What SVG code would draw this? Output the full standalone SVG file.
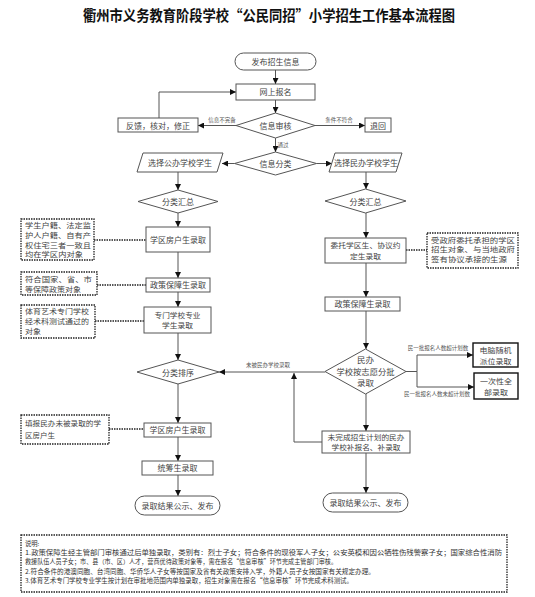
<svg xmlns="http://www.w3.org/2000/svg" width="535" height="597" viewBox="0 0 535 597">
<defs>
<marker id="ar" markerWidth="6" markerHeight="6" refX="6" refY="3" orient="auto" markerUnits="userSpaceOnUse">
<path d="M0,0 L6,3 L0,6 z" fill="#111"/>
</marker>
<style>
.n{fill:#fff;stroke:#555;stroke-width:1}
.b{fill:#fff;stroke:#111;stroke-width:1.4}
.nt{fill:#fff;stroke:#222;stroke-width:1.3;stroke-dasharray:1.5 1}
.c{fill:none;stroke:#555;stroke-width:1}
.d{fill:none;stroke:#222;stroke-width:1.3;stroke-dasharray:1.5 1}
text{font-family:"Noto Sans CJK SC","Noto Sans CJK JP",sans-serif;fill:#444}
.t{font-size:8px;text-anchor:middle}
.t2{font-size:7.2px;text-anchor:middle}
.tl{font-size:6.8px}
.s{font-size:5.5px;text-anchor:middle;fill:#555}
.m{font-size:6.3px;fill:#333}
</style>
</defs>
<rect width="535" height="597" fill="#fff"/>
<text x="269" y="21" font-size="14.5" font-weight="bold" text-anchor="middle" style="fill:#111" textLength="372" lengthAdjust="spacingAndGlyphs">衢州市义务教育阶段学校“公民同招”小学招生工作基本流程图</text>

<g id="connectors">
<path class="c" d="M275.5,70 V84" marker-end="url(#ar)"/>
<path class="c" d="M275.5,100 V113" marker-end="url(#ar)"/>
<path class="c" d="M236,125.5 H198" marker-end="url(#ar)"/>
<path class="c" d="M159,118 V92 H236" marker-end="url(#ar)"/>
<path class="c" d="M315,125.5 H365" marker-end="url(#ar)"/>
<path class="c" d="M275.5,138 V152" marker-end="url(#ar)"/>
<path class="c" d="M234.5,163.5 H222" marker-end="url(#ar)"/>
<path class="c" d="M316.5,163.5 H332" marker-end="url(#ar)"/>
<path class="c" d="M178,172 V190" marker-end="url(#ar)"/>
<path class="c" d="M178,213 V227" marker-end="url(#ar)"/>
<path class="c" d="M178,252 V278" marker-end="url(#ar)"/>
<path class="c" d="M178,292 V307" marker-end="url(#ar)"/>
<path class="c" d="M178,333 V360" marker-end="url(#ar)"/>
<path class="c" d="M178,384 V423" marker-end="url(#ar)"/>
<path class="c" d="M178,437 V461" marker-end="url(#ar)"/>
<path class="c" d="M178,475 V496" marker-end="url(#ar)"/>
<path class="c" d="M366,172 V189" marker-end="url(#ar)"/>
<path class="c" d="M366,213 V238" marker-end="url(#ar)"/>
<path class="c" d="M366,263 V297" marker-end="url(#ar)"/>
<path class="c" d="M366,311 V349" marker-end="url(#ar)"/>
<path class="c" d="M406,371.5 H417 V355 H473" marker-end="url(#ar)"/>
<path class="c" d="M417,371.5 V387 H474" marker-end="url(#ar)"/>
<path class="c" d="M325,372 H219" marker-end="url(#ar)"/>
<path class="c" d="M366,394 V431" marker-end="url(#ar)"/>
<path class="c" d="M322,442 H294 V373" marker-end="url(#ar)"/>
<path class="c" d="M366,453 V493" marker-end="url(#ar)"/>
<path class="d" d="M94,240 H146"/>
<path class="d" d="M97,285 H146"/>
<path class="d" d="M95,321 H144"/>
<path class="d" d="M109,429 H144"/>
<path class="d" d="M406,250 H427"/>
<text class="s" x="222" y="122">信息不完备</text>
<text class="s" x="339" y="122">条件不符合</text>
<text class="s" x="283" y="147">通过</text>
<text class="s" x="268" y="367">未被民办学校录取</text>
<text class="s" x="438" y="350">民一批报名人数超计划数</text>
<text class="s" x="437" y="396">民一批报名人数未超计划数</text>
</g>

<g id="start"><rect class="n" x="235" y="53" width="81" height="17" rx="8.5"/><text class="t" x="275.5" y="65" font-size="9.5">发布招生信息</text></g>
<g id="signup"><rect class="n" x="236" y="84" width="79" height="16"/><text class="t" x="275.5" y="95" font-size="9">网上报名</text></g>
<g id="review"><polygon class="n" points="236,125.5 275.5,113 315,125.5 275.5,138"/><text class="t" x="275.5" y="129" font-size="9">信息审核</text></g>
<g id="feedback"><rect class="n" x="118" y="118" width="80" height="14"/><text class="t" x="158" y="128.5" font-size="8.5">反馈，核对，修正</text></g>
<g id="reject"><rect class="n" x="365" y="118" width="26" height="14"/><text class="t" x="378" y="128.5" font-size="8.5">退回</text></g>
<g id="classify"><polygon class="n" points="234.5,163.5 275.5,152 316.5,163.5 275.5,175"/><text class="t" x="275.5" y="167" font-size="8.5">信息分类</text></g>
<g id="public"><polygon class="n" points="143,153 223,153 217,172 137,172"/><text class="t" x="180" y="166">选择公办学校学生</text></g>
<g id="private"><polygon class="n" points="335,153 402,153 396,172 329,172"/><text class="t" x="366" y="165.5" font-size="7.5">选择民办学校学生</text></g>

<g id="sum-l"><polygon class="n" points="138,201.5 178,190 218,201.5 178,213"/><text class="t" x="178" y="205">分类汇总</text></g>
<g id="district-l"><rect class="n" x="146" y="227" width="64" height="25"/><text class="t" x="178" y="242.5">学区房户生录取</text></g>
<g id="note1"><rect class="nt" x="21" y="219" width="73" height="41"/>
<text class="tl" x="25" y="228" textLength="66" lengthAdjust="spacingAndGlyphs">学生户籍、法定监</text>
<text class="tl" x="25" y="237.8" textLength="66" lengthAdjust="spacingAndGlyphs">护人户籍、自有产</text>
<text class="tl" x="25" y="247.6" textLength="66" lengthAdjust="spacingAndGlyphs">权住宅三者一致且</text>
<text class="tl" x="25" y="257.4" textLength="58" lengthAdjust="spacingAndGlyphs">均在学区内对象</text></g>
<g id="policy-l"><rect class="n" x="146" y="278" width="64" height="14"/><text class="t" x="178" y="288">政策保障生录取</text></g>
<g id="note2"><rect class="nt" x="21" y="272" width="76" height="23"/>
<text class="tl" x="25" y="281.5" textLength="67" lengthAdjust="spacingAndGlyphs">符合国家、省、市</text>
<text class="tl" x="25" y="291.5" textLength="56" lengthAdjust="spacingAndGlyphs">等保障政策对象</text></g>
<g id="special"><rect class="n" x="144" y="307" width="67" height="26"/><text class="t2" x="177.5" y="317.5" textLength="46" lengthAdjust="spacingAndGlyphs">专门学校专业</text><text class="t2" x="177.5" y="328" textLength="31" lengthAdjust="spacingAndGlyphs">学生录取</text></g>
<g id="note3"><rect class="nt" x="21" y="305" width="74" height="33"/>
<text class="tl" x="25" y="314" textLength="64" lengthAdjust="spacingAndGlyphs">体育艺术专门学校</text>
<text class="tl" x="25" y="323.8" textLength="64" lengthAdjust="spacingAndGlyphs">经术科测试通过的</text>
<text class="tl" x="25" y="333.6" textLength="16" lengthAdjust="spacingAndGlyphs">对象</text></g>
<g id="sort"><polygon class="n" points="137,372 178,360 219,372 178,384"/><text class="t" x="178" y="375.5">分类排序</text></g>
<g id="district-l2"><rect class="n" x="144" y="423" width="67" height="14"/><text class="t" x="177.5" y="433">学区房户生录取</text></g>
<g id="note4"><rect class="nt" x="21" y="415" width="88" height="29"/>
<text class="tl" x="25" y="426" font-size="7.4" textLength="76" lengthAdjust="spacingAndGlyphs">填报民办未被录取的学</text>
<text class="tl" x="25" y="437.5" font-size="7.4" textLength="30" lengthAdjust="spacingAndGlyphs">区房户生</text></g>
<g id="overall"><rect class="n" x="142" y="461" width="71" height="14"/><text class="t" x="177.5" y="471">统筹生录取</text></g>
<g id="end-l"><rect class="n" x="135" y="496" width="85" height="19" rx="9.5"/><text class="t" x="177.5" y="508.5">录取结果公示、发布</text></g>

<g id="sum-r"><polygon class="n" points="325,201 365.5,189 406,201 365.5,213"/><text class="t" x="365.5" y="204.5">分类汇总</text></g>
<g id="entrust"><rect class="n" x="325" y="238" width="81" height="25"/><text class="t2" x="365.5" y="248" textLength="70" lengthAdjust="spacingAndGlyphs">委托学区生、协议约</text><text class="t2" x="365.5" y="258.5" textLength="31" lengthAdjust="spacingAndGlyphs">定生录取</text></g>
<g id="note5"><rect class="nt" x="427" y="233" width="91" height="35"/>
<text class="tl" x="431" y="242.5" textLength="84" lengthAdjust="spacingAndGlyphs">受政府委托承担的学区</text>
<text class="tl" x="431" y="252.3" textLength="84" lengthAdjust="spacingAndGlyphs">招生对象、与当地政府</text>
<text class="tl" x="431" y="262.1" textLength="76" lengthAdjust="spacingAndGlyphs">签有协议承接的生源</text></g>
<g id="policy-r"><rect class="n" x="325" y="297" width="75" height="14"/><text class="t" x="362.5" y="307">政策保障生录取</text></g>
<g id="volunteer"><polygon class="n" points="325,371.5 365.5,349 406,371.5 365.5,394"/>
<text class="t" x="365.5" y="363" font-size="7.6" textLength="17" lengthAdjust="spacingAndGlyphs">民办</text>
<text class="t" x="365.5" y="374.5" font-size="7.6" textLength="58" lengthAdjust="spacingAndGlyphs">学校按志愿分批</text>
<text class="t" x="365.5" y="386" font-size="7.6" textLength="17" lengthAdjust="spacingAndGlyphs">录取</text></g>
<g id="lottery"><rect class="b" x="473" y="343" width="45" height="24"/><text class="t2" x="495.5" y="353" textLength="32" lengthAdjust="spacingAndGlyphs">电脑随机</text><text class="t2" x="495.5" y="363.5" textLength="32" lengthAdjust="spacingAndGlyphs">派位录取</text></g>
<g id="all"><rect class="b" x="474" y="373" width="44" height="26"/><text class="t2" x="496" y="384" textLength="32" lengthAdjust="spacingAndGlyphs">一次性全</text><text class="t2" x="496" y="394.5" textLength="24" lengthAdjust="spacingAndGlyphs">部录取</text></g>
<g id="supplement"><rect class="n" x="322" y="431" width="88" height="22"/><text class="t2" x="366" y="440" font-size="6.5" textLength="77" lengthAdjust="spacingAndGlyphs">未完成招生计划的民办</text><text class="t2" x="366" y="449.5" font-size="6.5" textLength="69" lengthAdjust="spacingAndGlyphs">学校补报名、补录取</text></g>
<g id="end-r"><rect class="n" x="323" y="493" width="85" height="19" rx="9.5"/><text class="t" x="365.5" y="505.5">录取结果公示、发布</text></g>

<g id="explain">
<rect class="nt" x="21" y="535" width="486" height="57"/>
<text class="m" x="25" y="546">说明:</text>
<text class="m" x="25" y="555.2" textLength="477" lengthAdjust="spacingAndGlyphs">1.政策保障生经主管部门审核通过后单独录取，类别有：烈士子女；符合条件的现役军人子女；公安英模和因公牺牲伤残警察子女；国家综合性消防</text>
<text class="m" x="25" y="564.4" textLength="312" lengthAdjust="spacingAndGlyphs">救援队伍人员子女；市、县（市、区）人才，营商优待政策对象等，需在报名“信息审核”环节完成主管部门审核。</text>
<text class="m" x="25" y="573.6" textLength="350" lengthAdjust="spacingAndGlyphs">2.符合条件的港澳同胞、台湾同胞、华侨华人子女等按国家及省有关政策安排入学，外籍人员子女按国家有关规定办理。</text>
<text class="m" x="25" y="582.8" textLength="328" lengthAdjust="spacingAndGlyphs">3.体育艺术专门学校专业学生按计划在审批地范围内单独录取，招生对象需在报名“信息审核”环节完成术科测试。</text>
</g>
</svg>
